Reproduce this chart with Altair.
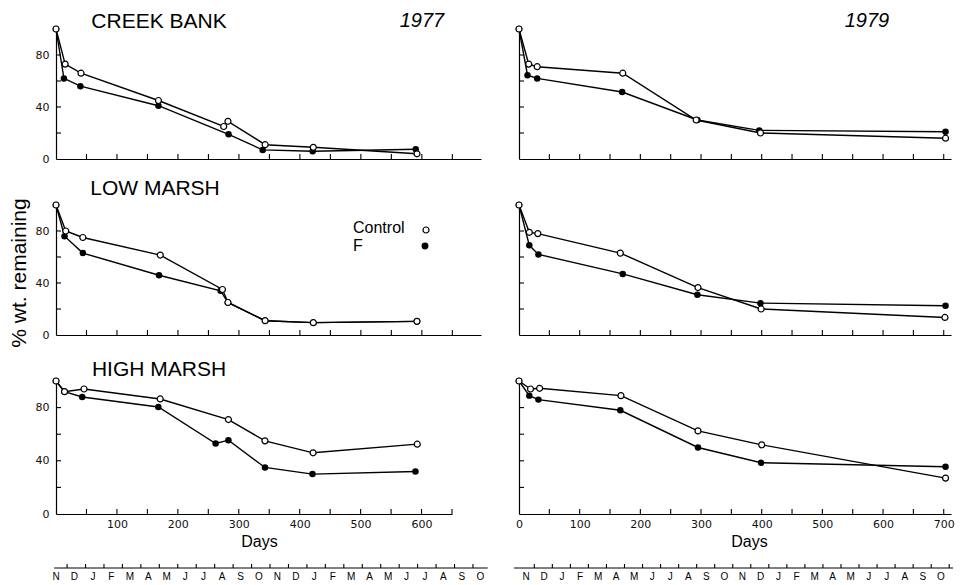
import altair as alt
import pandas as pd

# ---------------- data ----------------
# CREEK BANK 1977
cb77_ctrl_day = [0, 15, 41, 168, 275, 282, 343, 422, 592]
cb77_ctrl_val = [100, 73, 66, 45, 25, 29, 11, 9, 4]
cb77_f_day = [0, 13, 40, 168, 283, 339, 421, 590]
cb77_f_val = [100, 62, 56, 41, 19, 7, 6, 7.5]
# CREEK BANK 1979
cb79_ctrl_day = [0, 16, 30, 171, 292, 398, 703]
cb79_ctrl_val = [100, 73, 71, 66, 30, 20, 16]
cb79_f_day = [0, 14, 30, 170, 294, 396, 703]
cb79_f_val = [100, 64.5, 62, 51.5, 30, 22, 21]
# LOW MARSH 1977
lm77_ctrl_day = [0, 16, 44, 171, 273, 282, 343, 422, 592]
lm77_ctrl_val = [100, 80, 75, 61.5, 35, 25, 11, 9.5, 10.5]
lm77_f_day = [0, 14, 44, 169, 270, 282, 343, 422, 592]
lm77_f_val = [100, 76, 63, 46, 34, 25, 11, 9.5, 10.5]
# LOW MARSH 1979
lm79_ctrl_day = [0, 17, 31, 167, 295, 399, 702]
lm79_ctrl_val = [100, 79, 78, 63, 36.5, 20, 13.5]
lm79_f_day = [0, 17, 32, 171, 294, 398, 703]
lm79_f_val = [100, 69, 62, 47, 31, 24.5, 22.5]
# HIGH MARSH 1977
hm77_ctrl_day = [0, 14, 46, 171, 283, 343, 422, 593]
hm77_ctrl_val = [100, 92, 94, 86.5, 71, 55, 46, 52.5]
hm77_f_day = [0, 14, 43, 168, 262, 283, 343, 421, 590]
hm77_f_val = [100, 92, 88, 80.5, 53, 55.5, 35, 30, 32]
# HIGH MARSH 1979
hm79_ctrl_day = [0, 19, 34, 168, 295, 400, 703]
hm79_ctrl_val = [100, 94, 94.5, 89, 62.5, 52, 27]
hm79_f_day = [0, 17, 32, 167, 295, 399, 703]
hm79_f_val = [100, 89, 86, 78, 50, 38.5, 35.5]

# axis tick / label values
x_ticks_left = [50, 100, 150, 200, 250, 300, 350, 400, 450, 500, 550, 600, 650]
x_ticks_right = [50, 100, 150, 200, 250, 300, 350, 400, 450, 500, 550, 600, 650, 700]
x_labels_left = [100, 200, 300, 400, 500, 600]
x_labels_right = [0, 100, 200, 300, 400, 500, 600, 700]
y_ticks = [20, 40, 60, 80]
y_labels = [0, 40, 80]
months = ["N", "D", "J", "F", "M", "A", "M", "J", "J", "A", "S", "O",
          "N", "D", "J", "F", "M", "A", "M", "J", "J", "A", "S", "O"]

FONT = "Liberation Sans"
NUMFONT = "DejaVu Sans"


def annot(text, x, y, size, style="normal", angle=0, align="center"):
    kw = dict(fontSize=size, font=FONT, fontStyle=style, color="black",
              align=align, baseline="middle")
    if angle:
        kw["angle"] = angle
    return alt.Chart(pd.DataFrame({"label": [text]})).mark_text(**kw).encode(
        x=alt.value(x), y=alt.value(y), text="label:N")


def panel(cd, cv, fd, fv, xmax, width, height, xticks, xlabels=None,
          ylabels=True, title_x=None, extras=()):
    df = pd.DataFrame({
        "day": cd + fd,
        "val": cv + fv,
        "trt": ["Control"] * len(cd) + ["F"] * len(fd),
    })
    xs = alt.Scale(domain=[0, xmax], nice=False, zero=False)
    ys = alt.Scale(domain=[0, 100], nice=False, zero=False)
    if xlabels is not None:
        xaxis = alt.Axis(values=xlabels, ticks=False, grid=False, labelFlush=False,
                         labelPadding=4, title="Days", titlePadding=4,
                         titleX=title_x, format="d")
    else:
        xaxis = alt.Axis(labels=False, ticks=False, grid=False, title=None)
    if ylabels:
        yaxis = alt.Axis(values=y_labels, ticks=False, grid=False, labelPadding=7,
                         title=None, labelFlush=False)
    else:
        yaxis = alt.Axis(labels=False, ticks=False, grid=False, title=None)
    x = alt.X("day:Q", scale=xs, axis=xaxis)
    y = alt.Y("val:Q", scale=ys, axis=yaxis)

    lines = alt.Chart(df).mark_line(color="black", strokeWidth=1.4).encode(
        x=x, y=y, detail="trt:N")
    fpts = alt.Chart(df).transform_filter(alt.datum.trt == "F").mark_circle(
        color="black", size=42, opacity=1).encode(x=x, y=y)
    cpts = alt.Chart(df).transform_filter(alt.datum.trt == "Control").mark_circle(
        fill="white", stroke="black", strokeWidth=1.2, size=36, opacity=1).encode(x=x, y=y)
    xt = alt.Chart(pd.DataFrame({"day": xticks})).mark_rule(
        color="black", strokeWidth=1.1).encode(
        x=x, y=alt.value(height - 5), y2=alt.value(height))
    yt = alt.Chart(pd.DataFrame({"val": y_ticks})).mark_rule(
        color="black", strokeWidth=1.1).encode(
        y=y, x=alt.value(0), x2=alt.value(5))
    layers = [lines, fpts, cpts, xt, yt] + list(extras)
    return alt.layer(*layers).properties(width=width, height=height)


def month_axis(width, dmin, dmax, tick_idx, line_from, line_to):
    H = 8
    xs = alt.Scale(domain=[dmin, dmax], nice=False, zero=False)
    base = alt.Chart(pd.DataFrame({"a": [line_from], "b": [line_to]})).mark_rule(
        color="black", strokeWidth=1.1).encode(
        x=alt.X("a:Q", scale=xs, axis=None), x2="b:Q", y=alt.value(H))
    ticks = alt.Chart(pd.DataFrame({"a": tick_idx})).mark_rule(
        color="black", strokeWidth=1.1).encode(
        x=alt.X("a:Q", scale=xs, axis=None), y=alt.value(H - 4), y2=alt.value(H))
    lab = pd.DataFrame({"m": list(range(len(months))), "label": months})
    labels = alt.Chart(lab).mark_text(font=FONT, fontSize=10, color="black",
                                      baseline="middle").encode(
        x=alt.X("m:Q", scale=xs, axis=None), y=alt.value(H + 9), text="label:N")
    return alt.layer(base, ticks, labels).properties(width=width, height=H)


legend_layers = [
    annot("Control", 297, 23, 16, align="left"),
    annot("F", 297, 41, 16, align="left"),
    alt.Chart(pd.DataFrame({"k": ["Control"]})).mark_circle(
        fill="white", stroke="black", strokeWidth=1.2, size=36, opacity=1).encode(
        x=alt.value(370), y=alt.value(25)),
    alt.Chart(pd.DataFrame({"k": ["F"]})).mark_circle(
        color="black", size=48, opacity=1).encode(x=alt.value(369), y=alt.value(41)),
    annot("% wt. remaining", -36, 68, 21, angle=270),
]

tl = panel(cb77_ctrl_day, cb77_ctrl_val, cb77_f_day, cb77_f_val, 697, 425, 130,
           x_ticks_left, extras=[annot("CREEK BANK", 103, -7, 21),
                                 annot("1977", 366, -8, 20, style="italic")])
tr = panel(cb79_ctrl_day, cb79_ctrl_val, cb79_f_day, cb79_f_val, 712, 432, 130,
           x_ticks_right, ylabels=False,
           extras=[annot("1979", 348, -8, 20, style="italic")])
ml = panel(lm77_ctrl_day, lm77_ctrl_val, lm77_f_day, lm77_f_val, 697, 425, 130,
           x_ticks_left, extras=[annot("LOW MARSH", 99, -16, 21)] + legend_layers)
mr = panel(lm79_ctrl_day, lm79_ctrl_val, lm79_f_day, lm79_f_val, 712, 432, 130,
           x_ticks_right, ylabels=False)
bl = panel(hm77_ctrl_day, hm77_ctrl_val, hm77_f_day, hm77_f_val, 650, 396, 133,
           x_ticks_left, xlabels=x_labels_left, title_x=203,
           extras=[annot("HIGH MARSH", 103, -11, 21)])
br = panel(hm79_ctrl_day, hm79_ctrl_val, hm79_f_day, hm79_f_val, 712, 432, 133,
           x_ticks_right, xlabels=x_labels_right, ylabels=False, title_x=230)

mon_left = month_axis(425, 0, 425 / 18.45, [k + 0.6 for k in range(23)], -0.1, 23.4)
mon_right = month_axis(432, -0.388, -0.388 + 432 / 18.04,
                       [k + 0.46 for k in range(24)], -0.67, 23.67)

chart = alt.concat(tl, tr, ml, mr, bl, br, mon_left, mon_right,
                   columns=2, bounds="flush",
                   spacing={"row": 46, "column": 38}).properties(
    padding={"top": 3, "left": 0, "right": 0, "bottom": 0}
).configure_view(stroke=None).configure_axis(
    domainColor="black", domainWidth=1.2, labelColor="#111", labelFont=NUMFONT,
    labelFontSize=11, titleFont=FONT, titleFontSize=16, titleFontWeight="normal",
    titleColor="black", grid=False
)

chart.save("out.html", embed_options={"renderer": "svg", "actions": False})
